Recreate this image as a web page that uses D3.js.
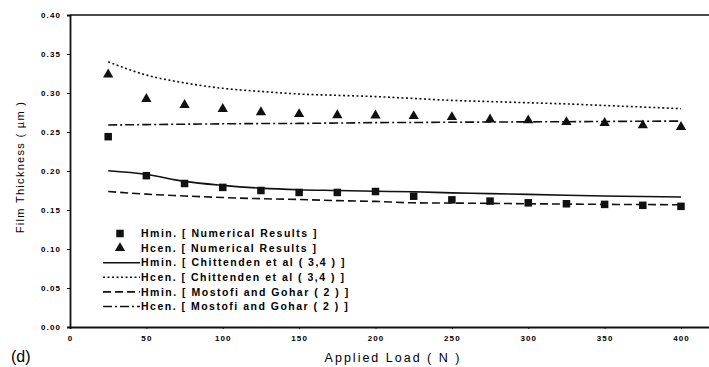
<!DOCTYPE html>
<html>
<head>
<meta charset="utf-8">
<script src="https://cdn.jsdelivr.net/npm/d3@7"></script>
<style>
  html, body { margin: 0; padding: 0; background: #fff; }
  svg { display: block; }
  text { font-family: Arial, "Liberation Sans", Helvetica, sans-serif; fill: #000; }
</style>
</head>
<body>
<svg id="chart" width="709" height="367"></svg>
<script>
// Applied load (N)
const loads = [25, 50, 75, 100, 125, 150, 175, 200, 225, 250, 275, 300, 325, 350, 375, 400];

// Film thickness (µm)
const hminNumerical = [0.244, 0.194, 0.184, 0.179, 0.175, 0.1725, 0.1725, 0.1737, 0.1677, 0.163, 0.1614, 0.1592, 0.158, 0.1572, 0.156, 0.1547];
const hcenNumerical = [0.3237, 0.2924, 0.2847, 0.2796, 0.2754, 0.2729, 0.2716, 0.2712, 0.2704, 0.2691, 0.266, 0.2649, 0.2627, 0.2615, 0.2585, 0.2564];
const hminChittenden = [0.2003, 0.1956, 0.1867, 0.1816, 0.178, 0.176, 0.175, 0.174, 0.1734, 0.172, 0.171, 0.170, 0.169, 0.168, 0.1673, 0.1667];
const hcenChittenden = [0.340, 0.323, 0.313, 0.306, 0.302, 0.2987, 0.297, 0.2954, 0.293, 0.2905, 0.289, 0.2875, 0.286, 0.284, 0.282, 0.280];
const hminMostofi = [0.1737, 0.1703, 0.168, 0.166, 0.1645, 0.1635, 0.162, 0.161, 0.1592, 0.1589, 0.1585, 0.158, 0.1576, 0.1572, 0.157, 0.1567];
const hcenMostofi = [0.259, 0.2595, 0.260, 0.2605, 0.2608, 0.261, 0.2615, 0.262, 0.2622, 0.2625, 0.2628, 0.263, 0.2632, 0.2635, 0.2638, 0.264];

const xTicks = [0, 50, 100, 150, 200, 250, 300, 350, 400];
const yTicks = [0.00, 0.05, 0.10, 0.15, 0.20, 0.25, 0.30, 0.35, 0.40];

const legendLabels = [
  "Hmin. [ Numerical Results ]",
  "Hcen. [ Numerical Results ]",
  "Hmin. [ Chittenden et al ( 3,4 ) ]",
  "Hcen. [ Chittenden et al ( 3,4 ) ]",
  "Hmin. [ Mostofi and Gohar ( 2 ) ]",
  "Hcen. [ Mostofi and Gohar ( 2 ) ]"
];

const svg = d3.select("#chart");
const ink = "#111";

// The plot area runs past the right edge of the page
const plotLeft = 70, plotTop = 15, plotBottom = 327;
const x = d3.scaleLinear().domain([0, 420]).range([plotLeft, plotLeft + 420 * (611 / 400)]);
const y = d3.scaleLinear().domain([0, 0.40]).range([plotBottom, plotTop]);

// Frame: top line, left axis, bottom axis
svg.append("line").attr("x1", plotLeft).attr("x2", 709).attr("y1", plotTop).attr("y2", plotTop)
  .attr("stroke", ink).attr("stroke-width", 1.6);

const tickFont = "Arial, 'Liberation Sans', sans-serif";

const yAxis = d3.axisLeft(y).tickValues(yTicks).tickFormat(d3.format(".2f")).tickSize(3).tickPadding(6);
const gy = svg.append("g").attr("transform", `translate(${plotLeft},0)`).call(yAxis);
gy.select(".domain").attr("stroke", ink).attr("stroke-width", 1.8);
gy.selectAll(".tick line").attr("stroke", ink);
gy.selectAll(".tick text").attr("font-size", 8).attr("font-weight", "bold")
  .attr("letter-spacing", 1.1).attr("fill", "#000").style("font-family", tickFont);

const xAxis = d3.axisBottom(x).tickValues(xTicks).tickFormat(d3.format("d")).tickSize(2).tickPadding(6);
const gx = svg.append("g").attr("transform", `translate(0,${plotBottom})`).call(xAxis);
gx.select(".domain").attr("stroke", ink).attr("stroke-width", 1.8);
gx.selectAll(".tick line").attr("stroke", ink);
gx.selectAll(".tick text").attr("font-size", 8).attr("font-weight", "bold")
  .attr("letter-spacing", 1.1).attr("fill", "#000").style("font-family", tickFont);

// Axis titles
svg.append("text")
  .attr("transform", `translate(24,167) rotate(-90)`)
  .attr("text-anchor", "middle")
  .attr("font-size", 11)
  .attr("letter-spacing", 1.3)
  .attr("fill", "#000")
  .text("Film Thickness ( \u00b5m )");

svg.append("text")
  .attr("x", 393).attr("y", 362)
  .attr("text-anchor", "middle")
  .attr("font-size", 12.5)
  .attr("letter-spacing", 2)
  .text("Applied Load ( N )");

svg.append("text")
  .attr("x", 11).attr("y", 362)
  .attr("font-size", 16)
  .text("(d)");

// Line series
const styles = {
  solid: null,
  dotted: "2,2.5",
  dashed: "8,4",
  dashdot: "9,3,2,3"
};

const lineSeries = [
  { values: hminChittenden, dash: styles.solid },
  { values: hcenChittenden, dash: styles.dotted },
  { values: hminMostofi, dash: styles.dashed },
  { values: hcenMostofi, dash: styles.dashdot }
];

const line = d3.line()
  .x((d, i) => x(loads[i]))
  .y(d => y(d))
  .curve(d3.curveMonotoneX);

svg.append("g").selectAll("path")
  .data(lineSeries)
  .join("path")
  .attr("d", d => line(d.values))
  .attr("fill", "none")
  .attr("stroke", ink)
  .attr("stroke-width", 1.6)
  .attr("stroke-dasharray", d => d.dash);

// Point markers
const sq = 7.5;
svg.append("g").selectAll("rect")
  .data(hminNumerical)
  .join("rect")
  .attr("x", (d, i) => x(loads[i]) - sq / 2)
  .attr("y", d => y(d) - sq / 2)
  .attr("width", sq).attr("height", sq)
  .attr("fill", ink);

const tri = d3.symbol().type(d3.symbolTriangle).size(46);
svg.append("g").selectAll("path")
  .data(hcenNumerical)
  .join("path")
  .attr("transform", (d, i) => `translate(${x(loads[i])},${y(d)})`)
  .attr("d", tri)
  .attr("fill", ink);

// Legend
const lgX0 = 103, lgX1 = 140, lgTextX = 141, lgY0 = 233.5, lgStep = 14.6;
const lg = svg.append("g");
legendLabels.forEach((label, i) => {
  const cy = lgY0 + i * lgStep;
  if (i === 0) {
    lg.append("rect").attr("x", 120 - sq / 2).attr("y", cy - sq / 2)
      .attr("width", sq).attr("height", sq).attr("fill", ink);
  } else if (i === 1) {
    lg.append("path").attr("transform", `translate(120,${cy})`).attr("d", tri).attr("fill", ink);
  } else {
    const s = lineSeries[i - 2];
    lg.append("line").attr("x1", lgX0).attr("x2", lgX1).attr("y1", cy).attr("y2", cy)
      .attr("stroke", ink).attr("stroke-width", 1.6).attr("stroke-dasharray", s.dash);
  }
  lg.append("text")
    .attr("x", lgTextX)
    .attr("y", cy)
    .attr("dy", "0.36em")
    .attr("font-size", 10.5)
    .attr("font-weight", "bold")
    .attr("letter-spacing", 1.5)
    .text(label);
});
</script>
</body>
</html>
